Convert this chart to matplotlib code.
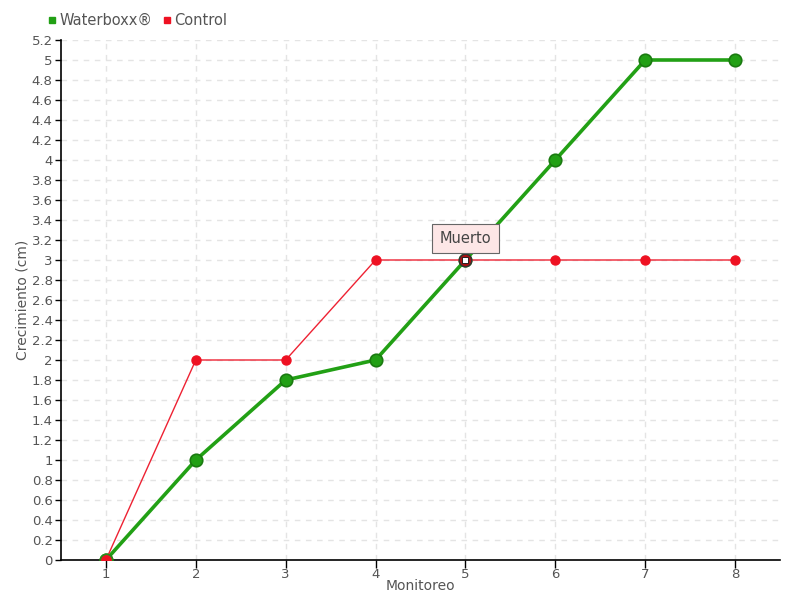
import matplotlib
matplotlib.use("Agg")
import matplotlib.pyplot as plt
import numpy as np

monitoreo = [1, 2, 3, 4, 5, 6, 7, 8]
waterboxx = [0, 1, 1.8, 2, 3, 4, 5, 5]
control = [0, 2, 2, 3, 3, 3, 3, 3]
yticks = [round(0.2 * i, 1) for i in range(27)]
ytick_labels = [("%g" % v) for v in yticks]

txtc = "#555555"
plt.rcParams['font.family'] = ['DejaVu Sans']

fig = plt.figure(figsize=(8, 6), dpi=100)
ax = fig.add_axes([61/800, 40/600, (780-61)/800, (560-40)/600])

ax.plot(monitoreo, waterboxx, color="#22a015", lw=2.6, marker="o", ms=9,
        markerfacecolor="#22a015", markeredgecolor="#1a7a10", markeredgewidth=1.2,
        zorder=3, label="Waterboxx®")
ax.plot(monitoreo, control, color="#ee2233", lw=1, marker="o", ms=6.5,
        markerfacecolor="#ee1122", markeredgecolor="#ee1122",
        zorder=4, label="Control")
# first point: red with green edge
ax.plot([monitoreo[0]], [control[0]], marker="o", ms=9, color="#ee1122",
        markeredgecolor="#2a8a1a", markeredgewidth=1.2, zorder=5, linestyle="none")
# dead point marker
ax.plot([monitoreo[4]], [waterboxx[4]], marker="o", ms=9, color="#aa1111",
        markeredgecolor="#333333", markeredgewidth=1, zorder=6, linestyle="none")
ax.plot([monitoreo[4]], [waterboxx[4]], marker="s", ms=4.5, color="white",
        markeredgecolor="#111111", markeredgewidth=0.6, zorder=7, linestyle="none")

ax.annotate("Muerto", xy=(monitoreo[4], waterboxx[4]), xytext=(0, 15.5),
            textcoords="offset points", ha="center", va="center",
            fontsize=10.5, color="#444444",
            bbox=dict(boxstyle="square,pad=0.5", fc="#fde6e6", ec="#666666", lw=0.8),
            zorder=8)

ax.set_xlim(0.5, 8.5)
ax.set_ylim(0, 5.2)
ax.set_xticks(monitoreo)
ax.set_yticks(yticks)
ax.set_yticklabels(ytick_labels)
ax.tick_params(axis="both", colors="black", labelcolor=txtc, labelsize=9.5,
               width=1)
ax.tick_params(axis="y", length=4, pad=2)
ax.tick_params(axis="x", direction="out", length=6, pad=0)
ax.grid(True, color="#e4e4e4", linestyle=(0, (4, 4)), lw=1)
ax.set_axisbelow(True)
for s in ["top", "right"]:
    ax.spines[s].set_visible(False)
for s in ["left", "bottom"]:
    ax.spines[s].set_color("black")
    ax.spines[s].set_linewidth(1.2)

ax.set_xlabel("Monitoreo", color=txtc, fontsize=10, va="center")
ax.set_ylabel("Crecimiento (cm)", color=txtc, fontsize=10, va="center")
ax.xaxis.set_label_coords((420 - 61) / 719, -(586 - 560) / 520)
ax.yaxis.set_label_coords(-(61 - 23) / 719, (560 - 300) / 520)

leg = fig.legend(handles=[
    plt.Line2D([], [], color="#22a015", marker="s", linestyle="none", ms=5),
    plt.Line2D([], [], color="#ee1122", marker="s", linestyle="none", ms=5)],
    labels=["Waterboxx®", "Control"], loc="upper left",
    bbox_to_anchor=(46/800, 1 - 13/600), ncol=2, frameon=False,
    handletextpad=0.1, columnspacing=0.6, handlelength=0.8, fontsize=10.5,
    borderaxespad=0, borderpad=0)
for t in leg.get_texts():
    t.set_color(txtc)

fig.savefig("out.png", dpi=100)
